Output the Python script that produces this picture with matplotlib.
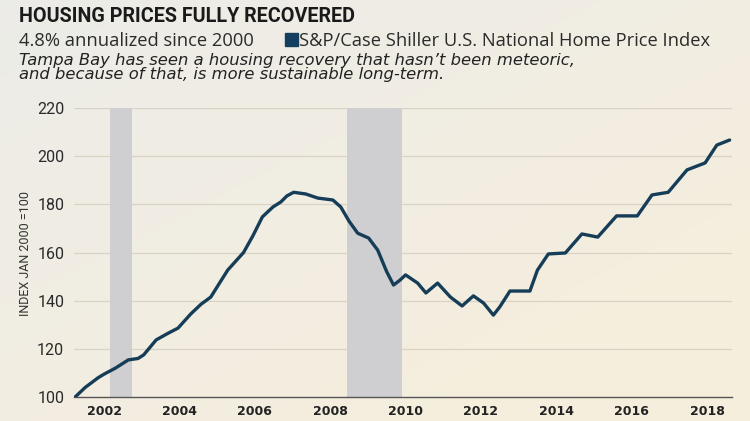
import numpy as np
import matplotlib
matplotlib.use("Agg")
import matplotlib.pyplot as plt
from matplotlib.patches import Rectangle

# data (decimal year, index value)
years = [2001.23, 2001.5, 2001.84, 2002.0, 2002.3, 2002.64, 2002.9, 2003.05,
         2003.38, 2003.7, 2003.96, 2004.3, 2004.57, 2004.83, 2005.05, 2005.28,
         2005.7, 2005.95, 2006.2, 2006.48, 2006.69, 2006.85, 2007.03, 2007.35,
         2007.67, 2008.07, 2008.28, 2008.5, 2008.73, 2009.02, 2009.26, 2009.5,
         2009.68, 2009.85, 2010.0, 2010.32, 2010.54, 2010.85, 2011.19, 2011.5,
         2011.8, 2012.07, 2012.33, 2012.5, 2012.77, 2013.3, 2013.5, 2013.79,
         2014.24, 2014.68, 2015.1, 2015.6, 2016.15, 2016.54, 2016.97, 2017.47,
         2017.95, 2018.26, 2018.6]
index = [100, 104, 108, 109.5, 112, 115.4, 116, 117.5,
         123.7, 126.5, 128.6, 134.5, 138.5, 141.5, 147, 152.7,
         160, 167, 174.8, 178.9, 181, 183.5, 185, 184.3,
         182.6, 181.8, 178.9, 173, 168, 166, 161, 152,
         146.5, 148.5, 150.7, 147.3, 143.2, 147.3, 141.5, 137.8,
         142, 139, 134, 137.4, 144, 144, 152.7, 159.4,
         159.8, 167.7, 166.4, 175.2, 175.2, 183.9, 185, 194.3,
         197.2, 204.6, 206.7]

recessions = [(2002.16, 2002.74), (2008.45, 2009.9)]
yticks = [100, 120, 140, 160, 180, 200, 220]
xticks = [2002, 2004, 2006, 2008, 2010, 2012, 2014, 2016, 2018]

W, H = 750, 421
fig = plt.figure(figsize=(7.5, 4.21), dpi=100)

# textured beige background
bg = fig.add_axes([0, 0, 1, 1])
gx, gy = np.meshgrid(np.linspace(0, 1, 200), np.linspace(0, 1, 120))
c_tl = np.array([0.925, 0.925, 0.910])
c_br = np.array([0.965, 0.935, 0.865])
t = np.clip(0.55 * gx + 0.6 * gy, 0, 1)[..., None]
img = c_tl * (1 - t) + c_br * t
bg.imshow(img, extent=[0, 1, 0, 1], aspect="auto", origin="upper")
bg.axis("off")

ax = fig.add_axes([74 / W, 1 - 397 / H, 657.5 / W, 289 / H])
ax.patch.set_alpha(0)

for a, b in recessions:
    ax.axvspan(a, b, color="#cfcfd1", lw=0, zorder=1)

for v in yticks[1:]:
    ax.axhline(v, color="#d9d3c6", lw=0.9, zorder=0)

ax.plot(years, index, color="#163d57", lw=2.4, solid_joinstyle="round",
        solid_capstyle="round", zorder=3)

ax.set_xlim(2001.2, 2018.65)
ax.set_ylim(100, 220)
ax.set_yticks(yticks)
ax.set_xticks(xticks)
ax.set_xticklabels([str(x) for x in xticks], fontfamily="DejaVu Sans",
                   fontweight="bold", fontsize=9, color="#222222")
ax.set_yticklabels([str(y) for y in yticks], fontfamily="Roboto",
                   fontsize=11.5, color="#2a2a2a")
ax.tick_params(axis="both", length=0)
ax.tick_params(axis="x", pad=6)
ax.tick_params(axis="y", pad=7)
for s in ["top", "right", "left"]:
    ax.spines[s].set_visible(False)
ax.spines["bottom"].set_color("#555555")
ax.spines["bottom"].set_linewidth(1.0)

fig.text(26 / W, 1 - 253 / H, "INDEX JAN 2000 =100", rotation=90,
         ha="center", va="center", fontfamily="Roboto", fontsize=9,
         color="#333333")

# header
fig.text(19 / W, 1 - 22 / H, "HOUSING PRICES FULLY RECOVERED",
         fontfamily="Roboto", fontweight="bold", fontsize=14.2,
         color="#1a1a1a", va="baseline")
fig.text(19 / W, 1 - 46 / H, "4.8% annualized since 2000",
         fontfamily="Open Sans", fontsize=13.2, color="#2b2b2b",
         va="baseline")
fig.patches.append(Rectangle((285 / W, 1 - 46 / H), 13 / W, 13 / H,
                             transform=fig.transFigure, color="#143f5e",
                             figure=fig))
fig.text(299 / W, 1 - 46 / H, "S&P/Case Shiller U.S. National Home Price Index",
         fontfamily="Open Sans", fontsize=13.2, color="#2b2b2b",
         va="baseline")
fig.text(19 / W, 1 - 64.5 / H,
         "Tampa Bay has seen a housing recovery that hasn\u2019t been meteoric,",
         fontfamily="DejaVu Sans", fontstyle="oblique", fontsize=11.8,
         color="#222222", va="baseline")
fig.text(19 / W, 1 - 78.5 / H,
         "and because of that, is more sustainable long-term.",
         fontfamily="DejaVu Sans", fontstyle="oblique", fontsize=11.8,
         color="#222222", va="baseline")

fig.savefig("out.png", dpi=100)
